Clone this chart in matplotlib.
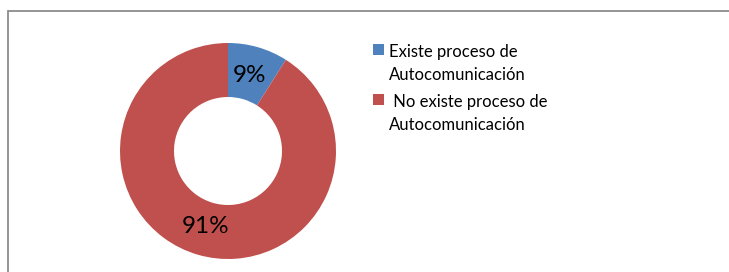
import matplotlib.pyplot as plt
import matplotlib.patches as mpatches

labels = ["Existe proceso de\nAutocomunicación", " No existe proceso de\nAutocomunicación"]
values = [9, 91]
colors = ["#4F81BD", "#C0504D"]

plt.rcParams['font.family'] = ['Lato', 'DejaVu Sans']

W, H = 729, 272
fig = plt.figure(figsize=(W / 100, H / 100), dpi=100)

# outer frame of the chart area (right and bottom edges fall outside the image)
frame = mpatches.Rectangle((7.5 / W, -0.1), 1.0, (H - 11.5) / H + 0.1,
                           transform=fig.transFigure, fill=False,
                           edgecolor="#8c8c8c", linewidth=1.3)
fig.patches.append(frame)

ax = fig.add_axes([120 / W, 13 / H, 216 / W, 216 / H])
wedges, texts, autotexts = ax.pie(values, colors=colors, startangle=90, counterclock=False,
                                  radius=1, autopct='%d%%', pctdistance=0.73,
                                  wedgeprops=dict(width=0.5, linewidth=0),
                                  textprops=dict(fontsize=17.5, color="black"))
ax.set_xlim(-1, 1)
ax.set_ylim(-1, 1)
ax.set_aspect('equal')
ax.axis('off')

# legend drawn by hand so the square sits on the first line of each label
ys = [50, 100]
for lab, col, y in zip(labels, colors, ys):
    sq = mpatches.Rectangle((373 / W, 1 - (y + 5) / H), 11 / W, 11 / H,
                            transform=fig.transFigure, facecolor=col, edgecolor="none")
    fig.patches.append(sq)
    fig.text(389 / W, 1 - (y - 6) / H, lab, fontsize=12, va='top', ha='left',
             linespacing=1.5)

fig.savefig("out.png", dpi=100)
